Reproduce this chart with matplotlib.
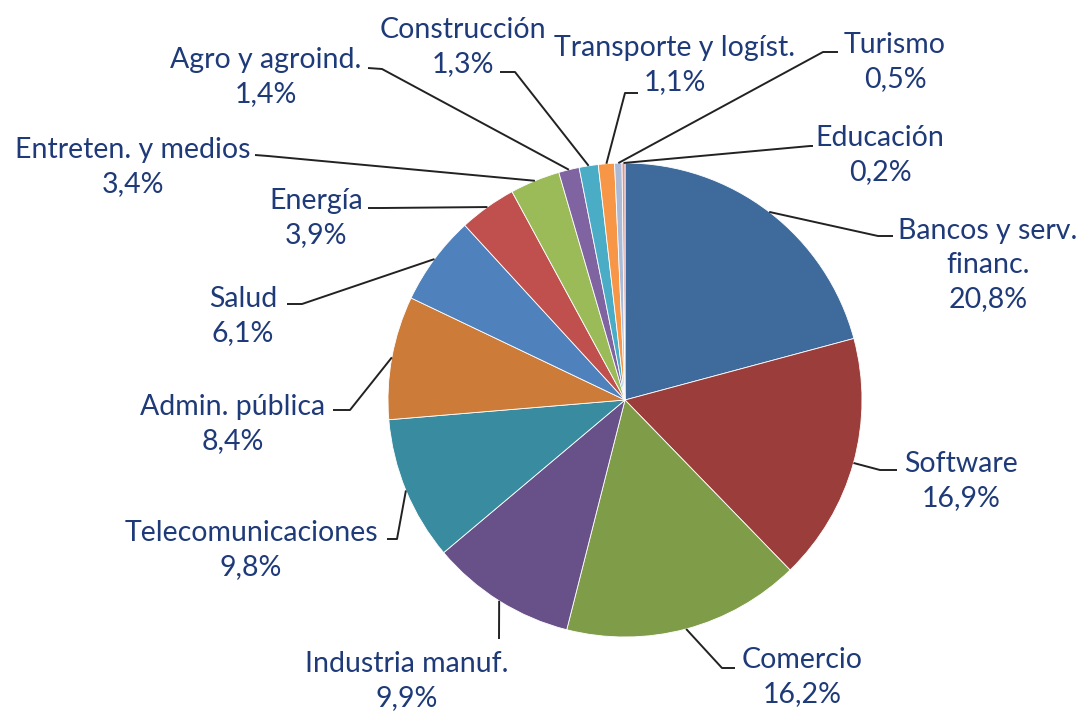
import matplotlib
matplotlib.use("Agg")
import matplotlib.pyplot as plt
import numpy as np

categories = ["Bancos y serv.\nfinanc.", "Software", "Comercio", "Industria manuf.",
              "Telecomunicaciones", "Admin. pública", "Salud", "Energía",
              "Entreten. y medios", "Agro y agroind.", "Construcción",
              "Transporte y logíst.", "Turismo", "Educación"]
values = [20.8, 16.9, 16.2, 9.9, 9.8, 8.4, 6.1, 3.9, 3.4, 1.4, 1.3, 1.1, 0.5, 0.2]
value_labels = ["20,8%", "16,9%", "16,2%", "9,9%", "9,8%", "8,4%", "6,1%", "3,9%",
                "3,4%", "1,4%", "1,3%", "1,1%", "0,5%", "0,2%"]
colors = ["#3F6A9C", "#9B3D3A", "#7F9D48", "#685088", "#398BA0", "#CC7B38",
          "#4F81BD", "#C0504D", "#9BBB59", "#8064A2", "#4BACC6", "#F79646",
          "#AABAD7", "#D99694"]

W, H = 1083, 713
def P(x, y):
    return x, H - y

# layout: label block centre, label-side line end, elbow (pixel coords, y down)
layout = [
    ((988, 265), (893, 236), (878, 236)),
    ((961, 481), (897, 470), (880, 470)),
    ((802, 677), (735, 668), (722, 668)),
    ((407, 681), (499, 639), (499, 639)),
    ((251, 550), (387, 539), (397, 539)),
    ((233, 424), (333, 410), (350, 410)),
    ((243, 316), (287, 304), (302, 304)),
    ((316, 218), (368, 208), (382, 208)),
    ((133, 167), (255, 155), (268, 156)),
    ((266, 77), (368, 68), (382, 69)),
    ((463, 47), (500, 72), (515, 72)),
    ((675, 65), (638, 93), (625, 93)),
    ((895, 62), (838, 52), (823, 52)),
    ((880, 155), (813, 146), (810, 146)),
]

fig = plt.figure(figsize=(W / 100, H / 100), dpi=100)
ax = fig.add_axes([0, 0, 1, 1])
ax.set_xlim(0, W)
ax.set_ylim(0, H)
ax.set_aspect("equal")
ax.axis("off")

cx, cy = P(625, 400)
R = 237
wedges, _ = ax.pie(values, colors=colors, startangle=90, counterclock=False,
                   center=(cx, cy), radius=R, frame=True,
                   wedgeprops=dict(edgecolor="white", linewidth=0.6))
ax.set_xlim(0, W)
ax.set_ylim(0, H)
ax.axis("off")

txt_color = "#1F3A78"
for w, cat, vl, (tc, lend, elbow) in zip(wedges, categories, value_labels, layout):
    mid = np.deg2rad((w.theta1 + w.theta2) / 2)
    ex, ey = cx + R * np.cos(mid), cy + R * np.sin(mid)
    xs = [P(*lend)[0], P(*elbow)[0], ex]
    ys = [P(*lend)[1], P(*elbow)[1], ey]
    ax.plot(xs, ys, color="#222222", lw=1.4, solid_capstyle="butt")
    ax.text(*P(*tc), f"{cat}\n{vl}", ha="center", va="center", multialignment="center",
            fontsize=20.5, family=["Lato", "DejaVu Sans"], color=txt_color, linespacing=1.38)

fig.savefig("out.png", dpi=100, facecolor="white")
